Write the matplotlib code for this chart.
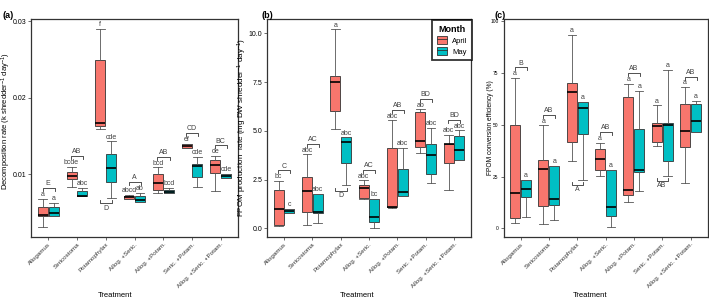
import matplotlib.pyplot as plt
from matplotlib.patches import Patch
from matplotlib.lines import Line2D
from matplotlib.legend_handler import HandlerTuple

plt.rcParams['font.family'] = ['Liberation Sans', 'DejaVu Sans']
plt.rcParams['mathtext.fontset'] = 'custom'
plt.rcParams['mathtext.rm'] = 'Liberation Sans'
plt.rcParams['mathtext.it'] = 'Liberation Sans:italic'

treatments = ['Allogamus', 'Sericostoma', 'Potamophylax', 'Allog. +Seric.',
              'Allog. +Potam.', 'Seric. +Potam.', 'Allog. +Seric. +Potam.']

# box stats per treatment: (low whisker, q1, median, q3, high whisker)
decomp_april = [(0.0031, 0.00455, 0.00468, 0.0057, 0.0068),
                (0.0084, 0.00935, 0.0098, 0.01026, 0.0110),
                (0.0159, 0.0163, 0.01675, 0.0249, 0.0290),
                (0.0068, 0.0068, 0.00705, 0.0072, 0.0073),
                (0.0075, 0.0080, 0.0088, 0.0101, 0.0109),
                (0.0134, 0.0134, 0.0137, 0.0139, 0.0140),
                (0.0078, 0.0102, 0.0112, 0.0119, 0.0124)]
decomp_may = [(0.0045, 0.0046, 0.0049, 0.00576, 0.0063),
              (0.0071, 0.0071, 0.00716, 0.0078, 0.00825),
              (0.0069, 0.0090, 0.0108, 0.0126, 0.0143),
              (0.0064, 0.0064, 0.0066, 0.0072, 0.0076),
              (0.0075, 0.0075, 0.0077, 0.0080, 0.0082),
              (0.0083, 0.0096, 0.0111, 0.0113, 0.0123),
              (0.0095, 0.0095, 0.0098, 0.0100, 0.0100)]
decomp_letters_april = ['a', 'bcde', 'f', 'abcd', 'bcd', 'ef', 'de']
decomp_letters_may = ['a', 'abc', 'cde', 'ab', 'bcd', 'cde', 'cde']
decomp_groups = ['E', 'AB', 'D', 'A', 'AB', 'CD', 'BC']
decomp_below = [False, False, True, False, False, False, False]

fpom_april = [(0.13, 0.17, 1.02, 1.99, 2.43),
              (0.20, 0.82, 1.92, 2.65, 3.79),
              (5.07, 6.00, 7.48, 7.82, 10.2),
              (1.50, 1.58, 2.09, 2.21, 2.46),
              (1.06, 1.08, 1.10, 4.13, 5.53),
              (3.86, 4.18, 4.47, 5.95, 6.10),
              (1.95, 3.33, 4.30, 4.32, 4.79)]
fpom_may = [(0.77, 0.77, 0.88, 0.98, 0.98),
            (0.26, 0.80, 0.82, 1.75, 1.78),
            (2.21, 3.35, 4.42, 4.66, 4.66),
            (0.03, 0.34, 0.56, 1.53, 1.53),
            (1.65, 1.65, 1.87, 3.03, 4.13),
            (2.33, 2.79, 3.74, 4.30, 5.13),
            (3.52, 3.52, 4.03, 4.76, 5.02)]
fpom_letters_april = ['bc', 'abc', 'a', 'abc', 'abc', 'ab', 'abc']
fpom_letters_may = ['c', 'abc', 'abc', 'bc', 'abc', 'abc', 'abc']
fpom_groups = ['C', 'AC', 'D', 'AC', 'AB', 'BD', 'BD']
fpom_below = [False, False, True, False, False, False, False]

eff_april = [(2.7, 4.8, 17.2, 50.1, 72.7),
             (2.2, 10.9, 28.6, 32.9, 49.8),
             (32.6, 41.7, 65.8, 70.3, 93.4),
             (25.5, 28.4, 33.7, 38.5, 41.4),
             (12.7, 15.9, 18.3, 63.6, 70.0),
             (39.6, 41.6, 49.3, 50.9, 59.4),
             (21.8, 39.2, 47.0, 60.2, 68.2)]
eff_may = [(5.6, 15.2, 19.1, 23.6, 23.6),
           (4.0, 11.5, 14.1, 30.0, 30.0),
           (23.6, 45.8, 58.1, 61.2, 61.2),
           (0.8, 5.8, 10.1, 28.1, 28.1),
           (17.8, 27.1, 28.4, 48.2, 66.5),
           (25.5, 32.6, 50.1, 51.1, 76.6),
           (46.5, 46.5, 51.7, 60.2, 61.5)]
eff_letters_april = ['a'] * 7
eff_letters_may = ['a'] * 7
eff_groups = ['B', 'AB', 'A', 'AB', 'AB', 'AB', 'AB']
eff_below = [False, False, True, False, False, True, False]

april_col = '#F8766D'
may_col = '#00BFC4'
edge = '#333333'

fig = plt.figure(figsize=(7.09, 3.0), dpi=100)


def to_stats(rows):
    return [dict(whislo=r[0], q1=r[1], med=r[2], q3=r[3], whishi=r[4], fliers=[])
            for r in rows]


def draw_panel(ax, april, may, lab_a, lab_m, groups, below):
    x = list(range(1, len(treatments) + 1))
    for rows, col, off in [(april, april_col, -0.19), (may, may_col, 0.19)]:
        ax.bxp(to_stats(rows), positions=[i + off for i in x], widths=0.35,
               capwidths=0.3, patch_artist=True, showfliers=False,
               boxprops=dict(facecolor=col, edgecolor=edge, linewidth=0.6),
               medianprops=dict(color='black', linewidth=1.2),
               whiskerprops=dict(color='#555555', linewidth=0.6),
               capprops=dict(color='#555555', linewidth=0.6))
    ax.set_xlim(0.4, 7.6)

    # height of one pixel in data units
    ylo, yhi = ax.get_ylim()
    px = (yhi - ylo) / (ax.get_position().height * fig.get_figheight() * fig.dpi)

    for i, c in enumerate(x):
        for rows, labs, off in [(april, lab_a, -0.19), (may, lab_m, 0.19)]:
            ax.text(c + off, rows[i][4] + 0.8 * px, labs[i], ha='center',
                    va='bottom', fontsize=5, color='#404040')
        x0, x1 = c - 0.2, c + 0.22
        if below[i]:
            y = min(april[i][0], may[i][0]) - 5.5 * px
            ax.plot([x0, x0, x1, x1], [y + 3 * px, y, y, y + 3 * px], color=edge, lw=0.6)
            ax.text(c, y - 1.2 * px, groups[i], ha='center', va='top',
                    fontsize=5, color='#404040')
        else:
            y = max(april[i][4], may[i][4]) + 10.5 * px
            ax.plot([x0, x0, x1, x1], [y - 3 * px, y, y, y - 3 * px], color=edge, lw=0.6)
            ax.text(c, y + 0.8 * px, groups[i], ha='center', va='bottom',
                    fontsize=5, color='#404040')

    ax.set_xticks(x)
    ax.set_xticklabels(treatments, rotation=45, ha='right', rotation_mode='anchor',
                       fontsize=4.5, color='#333333')
    ax.tick_params(length=2, width=0.5, color='#333333', pad=1.5)
    for s in ax.spines.values():
        s.set_color(edge)
        s.set_linewidth(0.9)
    ax.set_xlabel('Treatment', fontsize=5.5)


ax1 = fig.add_axes([31 / 709, 63 / 300, 207 / 709, 218 / 300])
ax1.set_ylim(0.0018, 0.0303)
ax1.set_yticks([0.01, 0.02, 0.03])
ax1.set_yticklabels(['0.01', '0.02', '0.03'])
draw_panel(ax1, decomp_april, decomp_may, decomp_letters_april, decomp_letters_may,
           decomp_groups, decomp_below)
ax1.tick_params(axis='y', labelsize=5)
ax1.set_ylabel('Decomposition rate (k shredder$^{-1}$ day$^{-1}$)', fontsize=5.5)
ax1.yaxis.set_label_coords(-0.086, 0.53)
ax1.xaxis.set_label_coords(0.406, -0.252)

ax2 = fig.add_axes([267 / 709, 63 / 300, 204 / 709, 218 / 300])
ax2.set_ylim(-0.44, 10.73)
ax2.set_yticks([0, 2.5, 5, 7.5, 10])
ax2.set_yticklabels(['0.0', '2.5', '5.0', '7.5', '10.0'])
draw_panel(ax2, fpom_april, fpom_may, fpom_letters_april, fpom_letters_may,
           fpom_groups, fpom_below)
ax2.tick_params(axis='y', labelsize=5)
ax2.set_ylabel('FPOM production  rate (mg DW shredder$^{-1}$ day$^{-1}$)', fontsize=5.8)
ax2.yaxis.set_label_coords(-0.088, 0.5)
ax2.xaxis.set_label_coords(0.44, -0.252)

handles = [(Patch(facecolor=april_col, edgecolor=edge, lw=0.6), Line2D([], [], color=edge, lw=0.6)),
           (Patch(facecolor=may_col, edgecolor=edge, lw=0.6), Line2D([], [], color=edge, lw=0.6))]
leg = ax2.legend(handles, ['April', 'May'], title='Month', loc='upper right',
                 bbox_to_anchor=(1.005, 0.995), borderaxespad=0, fontsize=5.5,
                 title_fontproperties={'weight': 'bold', 'size': 6.5},
                 handler_map={tuple: HandlerTuple(ndivide=1)},
                 handlelength=1.4, handleheight=1.1, handletextpad=0.6,
                 labelspacing=0.35, fancybox=False, borderpad=0.6)
leg.get_frame().set_edgecolor('black')
leg.get_frame().set_linewidth(1.3)

ax3 = fig.add_axes([503.5 / 709, 63 / 300, 204 / 709, 218 / 300])
ax3.set_ylim(-4.2, 101.2)
ax3.set_yticks([0, 25, 50, 75, 100])
draw_panel(ax3, eff_april, eff_may, eff_letters_april, eff_letters_may,
           eff_groups, eff_below)
ax3.tick_params(axis='y', labelsize=3.5)
ax3.set_ylabel('FPOM conversion efficiency (%)', fontsize=4.8)
ax3.yaxis.set_label_coords(-0.048, 0.5)
ax3.xaxis.set_label_coords(0.427, -0.252)

for xp, lab in [(0.004, '(a)'), (0.369, '(b)'), (0.697, '(c)')]:
    fig.text(xp, 0.95, lab, fontsize=6.5, fontweight='bold', va='center')

fig.savefig('out.png', dpi=100)
